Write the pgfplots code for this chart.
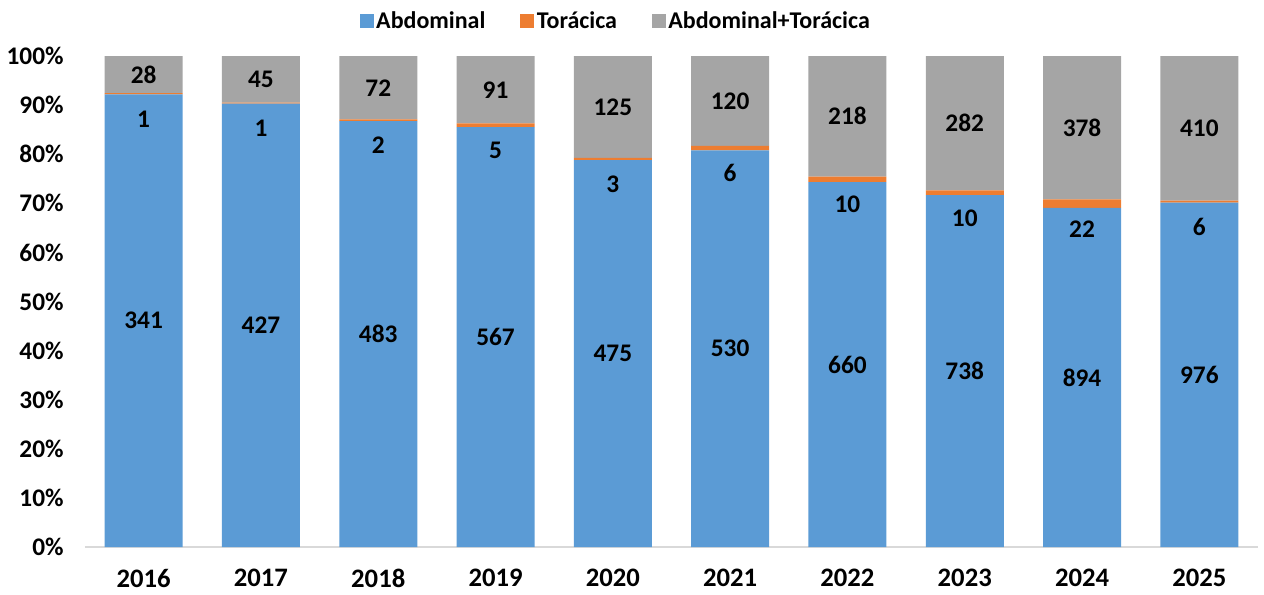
\documentclass[border=0pt]{standalone}
\usepackage{pgfplots}
\pgfplotsset{compat=1.18}
\usepackage{pgfplotstable}
\usepackage{fontspec}
\setmainfont{Carlito}
\definecolor{cA}{HTML}{5B9BD5}
\definecolor{cB}{HTML}{ED7D31}
\definecolor{cC}{HTML}{A5A5A5}
\definecolor{axgray}{HTML}{D9D9D9}
\pgfplotstableread{
X Year A B C
0 2016 341 1 28
1 2017 427 1 45
2 2018 483 2 72
3 2019 567 5 91
4 2020 475 3 125
5 2021 530 6 120
6 2022 660 10 218
7 2023 738 10 282
8 2024 894 22 378
9 2025 976 6 410
}\data
\pgfplotsset{
  sq legend/.style={legend image code/.code={\path[##1,draw=none] (0pt,-5.25pt) rectangle (10.5pt,5.25pt);}},
  common/.style={scale only axis, width=879.75pt, height=368.25pt,
    xmin=-0.5, xmax=9.5, ymin=0, ymax=100},
}
\begin{document}
\begin{tikzpicture}[font=\bfseries\fontsize{18}{21}\selectfont]
\path[use as bounding box] (-63.75pt,-35.25pt) rectangle (884.25pt,410.25pt);
\begin{axis}[common,
  ybar stacked, bar width=58.5pt,
  axis lines*=left,
  y axis line style={draw=none},
  x axis line style={draw=axgray, line width=1.2pt, -},
  tick style={draw=none}, major tick length=0pt,
  xtick=data,
  xticklabels={2016,2017,2018,2019,2020,2021,2022,2023,2024,2025},
  ytick={0,10,...,100},
  yticklabels={0\%,10\%,20\%,30\%,40\%,50\%,60\%,70\%,80\%,90\%,100\%},
  yticklabel style={anchor=east, xshift=-12.5pt, font=\bfseries\fontsize{19}{22}\selectfont},
  xticklabel style={anchor=north, yshift=-13pt, font=\bfseries\fontsize{20}{24}\selectfont},
  legend columns=3,
  legend style={draw=none, fill=none, at={(0.4527,1.0713)}, anchor=center,
    font=\bfseries\fontsize{18}{21}\selectfont,
    /tikz/every even column/.append style={column sep=24pt}},
  legend cell align=left,
]
\addplot[fill=cA, draw=none, sq legend] table[x=X, y expr={\thisrow{A}/(\thisrow{A}+\thisrow{B}+\thisrow{C})*100}]{\data};
\addplot[fill=cB, draw=none, sq legend] table[x=X, y expr={\thisrow{B}/(\thisrow{A}+\thisrow{B}+\thisrow{C})*100}]{\data};
\addplot[fill=cC, draw=none, sq legend] table[x=X, y expr={\thisrow{C}/(\thisrow{A}+\thisrow{B}+\thisrow{C})*100}]{\data};
\legend{Abdominal, Torácica, Abdominal+Torácica}
\end{axis}
\begin{axis}[common, hide axis,
  every node near coord/.append style={anchor=center, text=black, font=\bfseries\fontsize{19}{22}\selectfont}]
\addplot[draw=none, nodes near coords, point meta=explicit symbolic]
  table[x=X, y expr={\thisrow{A}/(\thisrow{A}+\thisrow{B}+\thisrow{C})*50}, meta=A]{\data};
\addplot[draw=none, nodes near coords, point meta=explicit symbolic,
  every node near coord/.append style={yshift=-19pt}]
  table[x=X, y expr={(\thisrow{A}+0.5*\thisrow{B})/(\thisrow{A}+\thisrow{B}+\thisrow{C})*100}, meta=B]{\data};
\addplot[draw=none, nodes near coords, point meta=explicit symbolic]
  table[x=X, y expr={(\thisrow{A}+\thisrow{B}+0.5*\thisrow{C})/(\thisrow{A}+\thisrow{B}+\thisrow{C})*100}, meta=C]{\data};
\end{axis}
\end{tikzpicture}
\end{document}
